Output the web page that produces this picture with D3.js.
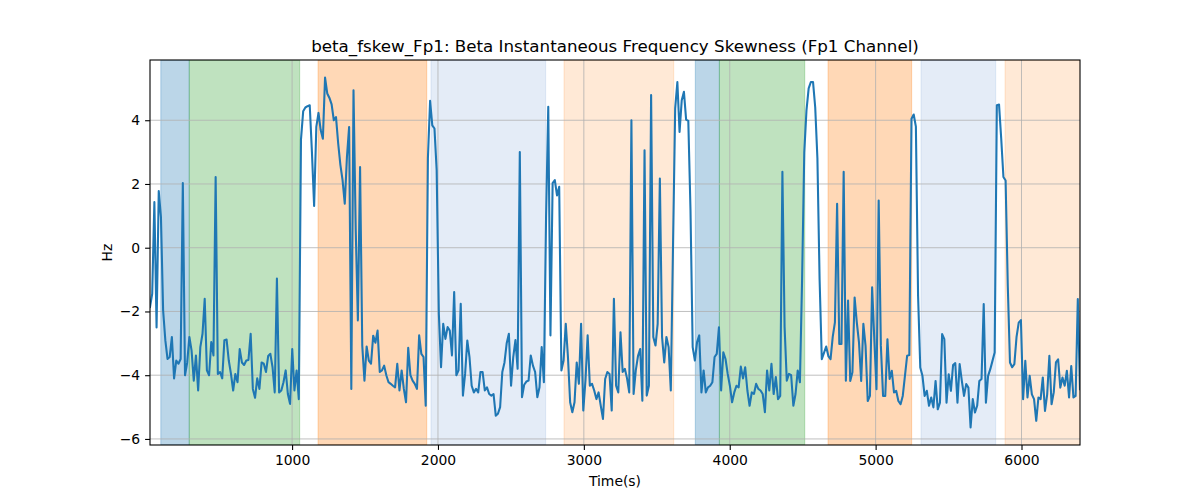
<!DOCTYPE html>
<html><head><meta charset="utf-8">
<script src="https://cdn.jsdelivr.net/npm/d3@7"></script>
<style>
body{margin:0;background:#fff;}
text{font-family:"DejaVu Sans",sans-serif;fill:#000;}
</style>
</head><body>
<svg id="chart" width="1200" height="500"></svg>
<script>
// ---- data ----
const values = [
-1.86,-1.45,1.43,-2.5,1.78,0.96,-1.97,-2.9,-3.49,-3.43,
-2.8,-4.1,-3.54,-3.64,-3.49,2.03,-4.0,-3.6,-2.8,-3.23,
-4.17,-3.38,-4.48,-3.12,-2.7,-1.6,-3.85,-4.0,-2.96,-3.38,
2.22,-3.96,-3.9,-4.1,-2.9,-2.88,-3.54,-3.96,-4.48,-3.96,
-4.22,-3.18,-3.6,-3.68,-3.54,-3.52,-2.7,-4.43,-4.71,-4.1,
-4.43,-3.6,-3.64,-3.9,
-3.4,-3.33,-3.75,-4.54,-0.97,-4.54,-4.48,-4.22,-3.85,-4.59,
-4.9,-3.18,-4.48,-3.85,-4.75,3.4,4.28,4.4,4.44,4.47,
3.0,1.31,3.79,4.23,3.69,3.42,5.34,4.84,4.7,4.5,
4.0,4.1,3.27,2.6,2.12,1.38,2.85,3.79,-4.43,4.94,
0.6,-2.28,2.53,-3.07,-4.17,-3.1,-3.54,-3.64,-2.76,-2.98,
-2.6,-3.9,-3.85,
-3.7,-4.0,-4.22,-4.27,-4.33,-4.38,-3.64,-4.48,-3.85,-4.43,
-4.85,-3.14,-4.0,-4.17,-4.27,-4.43,-2.75,-3.33,-3.43,-4.96,
2.8,4.61,3.84,3.74,2.43,-2.07,-3.75,-2.39,-2.86,-2.49,
-2.6,-3.38,-1.39,-4.0,-3.85,-1.76,-4.64,-3.96,-2.91,-3.43,
-4.33,-4.54,-4.43,-4.54,-3.9,-3.9,-4.48,-4.38,-4.59,-4.64,
-4.59,-5.27,-5.21,
-5.0,-3.9,-3.6,-3.0,-2.7,-4.33,-3.43,-2.9,-3.8,3.0,
-4.69,-4.3,-4.2,-4.17,-3.38,-3.7,-3.9,-4.69,-4.38,-3.12,
-4.22,0.96,4.42,-2.75,2.03,2.12,1.64,1.91,-3.85,-3.54,
-2.39,-3.43,-4.85,-5.16,-4.85,-3.6,-4.27,-2.39,-5.11,-4.17,
-2.75,-4.33,-4.27,-4.48,-4.75,-4.54,-4.96,-5.37,-4.12,-3.9,
-3.96,-5.11,-1.6,
-4.33,-4.54,-2.65,-3.9,-3.8,-4.1,-4.54,4.0,-4.59,-3.85,
-3.4,-3.18,-4.8,3.06,-4.64,-4.33,4.79,-2.8,-3.07,-2.39,
2.17,-2.8,-3.6,-2.8,-3.12,-4.48,0.0,4.37,5.2,3.63,
4.63,4.89,4.02,3.98,1.17,-3.12,-3.54,-2.96,-2.75,-4.54,
-3.85,-4.54,-4.38,-4.33,-4.22,-3.43,-3.33,-2.5,-4.48,-3.28,
-3.49,-3.96,-4.33,
-4.85,-4.54,-4.33,-4.38,-3.73,-4.1,-3.75,-4.48,-4.96,-4.54,
-4.59,-4.27,-4.43,-4.48,-4.59,-5.16,-3.85,-4.48,-3.64,-4.59,
-4.06,-4.75,-4.65,2.38,-2.49,-4.17,-3.96,-4.0,-4.96,-4.59,
-3.85,-4.22,-1.0,3.0,4.31,5.0,5.2,5.2,4.4,2.8,
-1.0,-3.5,-3.3,-3.1,-3.4,-3.5,-2.8,-2.34,1.38,-3.02,
-3.02,2.38,-4.17,
-1.66,-4.18,-3.91,-1.56,-2.34,-2.97,-4.18,-2.39,-3.08,-4.81,
-4.65,-1.24,-2.87,-4.44,1.48,-3.08,-4.65,-4.65,-2.87,-4.12,
-3.86,-4.54,-4.49,-4.81,-4.91,-4.65,-4.02,-3.39,-3.37,4.05,
4.18,3.8,-1.5,-3.76,-4.02,-4.65,-4.49,-4.96,-4.7,-5.01,
-4.18,-5.07,-4.86,-2.71,-2.87,-4.86,-3.97,-4.49,-3.68,-3.62,
-4.86,-3.65,-4.18,
-4.65,-4.28,-4.39,-5.64,-4.75,-5.17,-4.96,-4.18,-4.12,-1.77,
-4.86,-4.02,-3.81,-3.55,-3.29,4.47,4.49,3.42,2.22,2.11,
-1.2,-3.6,-3.75,-3.65,-2.8,-2.35,-2.27,-4.75,-3.55,-4.7,
-4.02,-4.6,-4.75,-5.43,-4.7,-4.75,-4.07,-5.12,-4.6,-3.39,
-4.91,-4.54,-3.6,-3.5,-4.39,-4.07,-4.33,-3.86,-4.7,-3.71,
-4.7,-4.65,-1.61,-4.44
];
const sampleStart = 26;   // seconds, first sample
const sampleStep = 15;    // seconds between samples

const spanStarts = [100, 295, 1178, 1952, 2864, 3764, 3929, 4674, 5311, 5887];
const spanEnds   = [295, 1052, 1923, 2738, 3616, 3929, 4514, 5247, 5823, 6450];
const spanKinds  = ["blue","green","orange","lightblue","lightorange",
                    "blue","green","orange","lightblue","lightorange"];

const xTicks = [1000, 2000, 3000, 4000, 5000, 6000];
const yTicks = [-6, -4, -2, 0, 2, 4];

const titleText = "beta_fskew_Fp1: Beta Instantaneous Frequency Skewness (Fp1 Channel)";
const xLabel = "Time(s)";
const yLabel = "Hz";

// ---- styles ----
const spanFill = {
  blue: ["#1f77b4", 0.3], green: ["#2ca02c", 0.3], orange: ["#ff7f0e", 0.3],
  lightblue: ["#6a97d4", 0.18], lightorange: ["#ff7f0e", 0.17]
};

const W = 1200, H = 500;
const m = {left:150, right:1080, top:60, bottom:445};

const times = values.map((_, i) => sampleStart + i * sampleStep);
const series = times.map((t, i) => ({t, v: values[i]}));

const x = d3.scaleLinear().domain([d3.min(times), d3.max(times)]).range([m.left, m.right]);
const y = d3.scaleLinear().domain([-6.19, 5.89]).range([m.bottom, m.top]);

const svg = d3.select("#chart");
svg.append("rect").attr("width", W).attr("height", H).attr("fill", "#fff");

svg.append("defs").append("clipPath").attr("id","plot")
  .append("rect").attr("x", m.left).attr("y", m.top)
  .attr("width", m.right - m.left).attr("height", m.bottom - m.top);

const spans = spanStarts.map((s, i) => ({s, e: spanEnds[i], k: spanKinds[i]}));
svg.append("g").attr("clip-path","url(#plot)")
  .selectAll("rect").data(spans).join("rect")
  .attr("x", d => x(d.s)).attr("width", d => x(d.e) - x(d.s))
  .attr("y", m.top).attr("height", m.bottom - m.top)
  .attr("fill", d => spanFill[d.k][0]).attr("fill-opacity", d => spanFill[d.k][1])
  .attr("stroke", d => spanFill[d.k][0]).attr("stroke-opacity", d => spanFill[d.k][1])
  .attr("stroke-width", 1);

// grid
const grid = svg.append("g").attr("stroke", "#b0b0b0").attr("stroke-width", 0.8);
grid.selectAll("line.gx").data(xTicks).join("line")
  .attr("x1", d => x(d)).attr("x2", d => x(d)).attr("y1", m.top).attr("y2", m.bottom);
grid.selectAll("line.gy").data(yTicks).join("line")
  .attr("y1", d => y(d)).attr("y2", d => y(d)).attr("x1", m.left).attr("x2", m.right);

// line
const line = d3.line().x(d => x(d.t)).y(d => y(d.v));
svg.append("path").datum(series).attr("clip-path","url(#plot)")
  .attr("d", line).attr("fill", "none").attr("stroke", "#1f77b4")
  .attr("stroke-width", 2.08).attr("stroke-linejoin", "round").attr("stroke-linecap","square");

// axes
const fmt = d => (d < 0 ? "\u2212" + Math.abs(d) : String(d));
const xAxis = d3.axisBottom(x).tickValues(xTicks).tickFormat(fmt).tickSize(4.9).tickPadding(4.9);
const yAxis = d3.axisLeft(y).tickValues(yTicks).tickFormat(fmt).tickSize(4.9).tickPadding(4.9);

const gx = svg.append("g").attr("transform", `translate(0,${m.bottom})`).call(xAxis);
const gy = svg.append("g").attr("transform", `translate(${m.left},0)`).call(yAxis);
[gx, gy].forEach(g => {
  g.select(".domain").remove();
  g.selectAll(".tick line").attr("stroke", "#000").attr("stroke-width", 1.1);
  g.selectAll(".tick text").attr("font-size", "13.9px").attr("font-family", "DejaVu Sans").attr("fill", "#000");
});

// frame
svg.append("rect").attr("x", m.left).attr("y", m.top)
  .attr("width", m.right - m.left).attr("height", m.bottom - m.top)
  .attr("fill", "none").attr("stroke", "#000").attr("stroke-width", 1.1);

// labels
svg.append("text").attr("x", (m.left + m.right) / 2).attr("y", 52)
  .attr("text-anchor", "middle").attr("font-size", "16.7px").text(titleText);
svg.append("text").attr("x", (m.left + m.right) / 2).attr("y", 486)
  .attr("text-anchor", "middle").attr("font-size", "13.9px").text(xLabel);
svg.append("text").attr("transform", `translate(112,${(m.top + m.bottom) / 2}) rotate(-90)`)
  .attr("text-anchor", "middle").attr("font-size", "13.9px").text(yLabel);
</script>
</body></html>
